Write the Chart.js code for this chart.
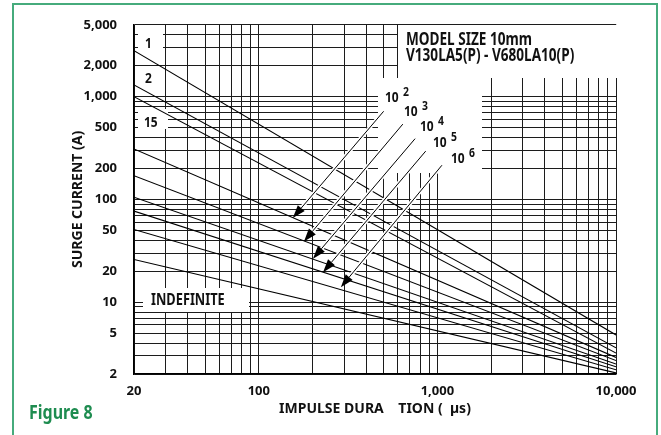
<!DOCTYPE html>
<html>
<head>
<meta charset="utf-8">
<script src="https://cdn.jsdelivr.net/npm/chart.js@4.4.1/dist/chart.umd.min.js"></script>
<style>
  html, body { margin: 0; padding: 0; background: #fff; }
  #wrap { position: relative; width: 661px; height: 435px; overflow: hidden; }
  #frame { position: absolute; left: 12px; top: 3px; width: 646px; height: 500px; border: 2px solid #46ab7c; border-bottom: none; box-sizing: border-box; }
  #fig { position: absolute; left: 29px; top: 402px; line-height: 1; font-size: 20px; font-weight: bold; color: #1e8c50; white-space: nowrap; transform-origin: 0 0; }
  canvas { position: absolute; left: 0; top: 0; }
</style>
</head>
<body>
<div id="wrap">
  <div id="frame"></div>
  <canvas id="chart" width="661" height="435"></canvas>
  <div id="fig">Figure 8</div>
</div>
<script>
// impulse duration (µs) at the two ends of every rating line
const durations = [20, 10000]
const pulseCounts = ['1', '2', '15', '10^2', '10^3', '10^4', '10^5', '10^6', 'INDEFINITE']
const currentAt20us = [2800, 1300, 1000, 310, 170, 105, 77, 51, 26]
const currentAt10ms = [4.8, 3.6, 3.2, 2.9, 2.7, 2.5, 2.35, 2.2, 2.05]

// pointer arrows for the 10^n labels: [duration, current]
const arrowFrom = [[500, 720], [640, 540], [750, 390], [860, 295], [1060, 215]]
const arrowTo = [[155, 66], [179, 39], [201, 26.5], [229, 19.6], [288, 14]]

const xTicks = [20, 30, 40, 50, 60, 70, 80, 90, 100, 200, 300, 400, 500, 600, 700, 800, 900,
  1000, 2000, 3000, 4000, 5000, 6000, 7000, 8000, 9000, 10000]
const yTicks = [2, 3, 4, 5, 6, 7, 8, 9, 10, 20, 30, 40, 50, 60, 70, 80, 90, 100, 200, 300, 400,
  500, 600, 700, 800, 900, 1000, 2000, 3000, 4000, 5000]
const xLabels = [20, 100, 1000, 10000]
const yLabels = [2, 5, 10, 20, 50, 100, 200, 500, 1000, 2000, 5000]

// white patches that break the grid behind the annotations (canvas px)
const patches = [
  [398, 25, 219, 53], [378, 78, 104, 95],
  [138, 28, 25, 22], [138, 68, 25, 20], [138, 109, 30, 20],
  [143, 288, 106, 24]
]
const notes = [
  { text: 'MODEL SIZE 10mm', x: 406, y: 45, size: 17 },
  { text: 'V130LA5(P) - V680LA10(P)', x: 406, y: 61, size: 17 },
  { text: '1', x: 145, y: 48, size: 15 },
  { text: '2', x: 145, y: 83, size: 15 },
  { text: '15', x: 144, y: 127, size: 15 },
  { text: 'INDEFINITE', x: 151, y: 305, size: 16 }
]
const powers = [
  { exp: '2', x: 385, y: 102 },
  { exp: '3', x: 404, y: 116 },
  { exp: '4', x: 420, y: 131 },
  { exp: '5', x: 433, y: 147 },
  { exp: '6', x: 451, y: 163 }
]

// the original uses a condensed bold face: take the narrowest installed one
const faces = [
  { family: "'Liberation Sans Narrow'", weight: 'bold' },
  { family: "'DejaVu Sans Condensed'", weight: 'bold' },
  { family: "'Noto Sans'", weight: 'bold' },
  { family: "'Liberation Sans'", weight: 'bold' }
]
const probe = document.createElement('canvas').getContext('2d')
const widthOf = font => { probe.font = font; return probe.measureText('MODEL SIZE 10mm').width }
const face = faces
  .filter(f => widthOf(`${f.weight} 17px ${f.family}, monospace`) !== widthOf(`${f.weight} 17px monospace`))
  .map(f => ({ f, w: widthOf(`${f.weight} 17px ${f.family}`) }))
  .sort((a, b) => a.w - b.w)[0]
const FONT = `${face.f.family}, sans-serif`
const WEIGHT = face.f.weight
const squeeze = Math.min(1, 126 / face.w)

const fig = document.getElementById('fig')
fig.style.fontFamily = FONT
fig.style.transform = `scaleX(${squeeze})`

const fmt = v => v.toLocaleString('en-US')

const annotations = {
  id: 'annotations',
  beforeDatasetsDraw (chart) {
    const { ctx } = chart
    ctx.save()
    ctx.fillStyle = '#fff'
    patches.forEach(([x, y, w, h]) => ctx.fillRect(x, y, w, h))
    ctx.restore()
  },
  afterDatasetsDraw (chart) {
    const { ctx, scales: { x, y } } = chart
    ctx.save()
    arrowFrom.forEach((from, i) => {
      const x1 = x.getPixelForValue(from[0])
      const y1 = y.getPixelForValue(from[1])
      const x2 = x.getPixelForValue(arrowTo[i][0])
      const y2 = y.getPixelForValue(arrowTo[i][1])
      const ang = Math.atan2(y2 - y1, x2 - x1)
      const bx = x2 - 13 * Math.cos(ang)
      const by = y2 - 13 * Math.sin(ang)
      ctx.beginPath()
      ctx.moveTo(x1, y1)
      ctx.lineTo(bx, by)
      ctx.strokeStyle = '#fff'
      ctx.lineWidth = 4
      ctx.stroke()
      ctx.strokeStyle = '#000'
      ctx.lineWidth = 1
      ctx.stroke()
      ctx.beginPath()
      ctx.moveTo(x2, y2)
      ctx.lineTo(bx + 4.5 * Math.sin(ang), by - 4.5 * Math.cos(ang))
      ctx.lineTo(bx - 4.5 * Math.sin(ang), by + 4.5 * Math.cos(ang))
      ctx.closePath()
      ctx.fillStyle = '#000'
      ctx.fill()
    })

    ctx.fillStyle = '#111'
    ctx.textBaseline = 'alphabetic'
    const put = (text, px, py, size) => {
      ctx.save()
      ctx.translate(px, py)
      ctx.scale(squeeze, 1)
      ctx.font = `${WEIGHT} ${size}px ${FONT}`
      ctx.fillText(text, 0, 0)
      ctx.restore()
    }
    notes.forEach(n => put(n.text, n.x, n.y, n.size))
    powers.forEach(p => {
      put('10', p.x, p.y, 15)
      put(p.exp, p.x + 18, p.y - 6, 13)
    })
    ctx.restore()
  }
}

const datasets = pulseCounts.map((label, i) => ({
  label,
  data: [
    { x: durations[0], y: currentAt20us[i] },
    { x: durations[1], y: currentAt10ms[i] }
  ],
  showLine: true,
  borderColor: '#000',
  borderWidth: 1.1,
  pointRadius: 0
}))

const grid = { color: '#1c1c1c', lineWidth: 1, drawTicks: false }
const tickFont = { family: FONT, size: squeeze < 0.85 ? 13 : 14, weight: WEIGHT }
const titleFont = { family: FONT, size: squeeze < 0.85 ? 14 : 16, weight: WEIGHT }

/* eslint-disable no-new */
new Chart(document.getElementById('chart'), {
  type: 'scatter',
  data: { datasets },
  options: {
    responsive: false,
    animation: false,
    layout: { padding: { top: 24, right: 45, left: 0, bottom: 0 } },
    plugins: { legend: { display: false }, tooltip: { enabled: false } },
    scales: {
      x: {
        type: 'logarithmic',
        min: 20,
        max: 10000,
        grid,
        border: { color: '#000', width: 1.5 },
        afterBuildTicks: scale => { scale.ticks = xTicks.map(value => ({ value })) },
        afterFit: scale => { scale.height = 61 },
        ticks: {
          autoSkip: false,
          maxRotation: 0,
          padding: 9,
          color: '#111',
          font: tickFont,
          callback: v => xLabels.includes(v) ? fmt(v) : ''
        },
        title: {
          display: true,
          text: 'IMPULSE DURA    TION (  µs)',
          color: '#111',
          font: titleFont,
          padding: { top: 0, bottom: 18 }
        }
      },
      y: {
        type: 'logarithmic',
        min: 2,
        max: 5000,
        grid,
        border: { color: '#000', width: 1.5 },
        afterBuildTicks: scale => { scale.ticks = yTicks.map(value => ({ value })) },
        afterFit: scale => { scale.width = 134 },
        ticks: {
          autoSkip: false,
          padding: 17,
          color: '#111',
          font: tickFont,
          callback: v => yLabels.includes(v) ? fmt(v) : ''
        },
        title: {
          display: true,
          text: 'SURGE CURRENT (A)',
          color: '#111',
          font: titleFont,
          padding: { top: 70, bottom: 0 }
        }
      }
    }
  },
  plugins: [annotations]
})
</script>
</body>
</html>
